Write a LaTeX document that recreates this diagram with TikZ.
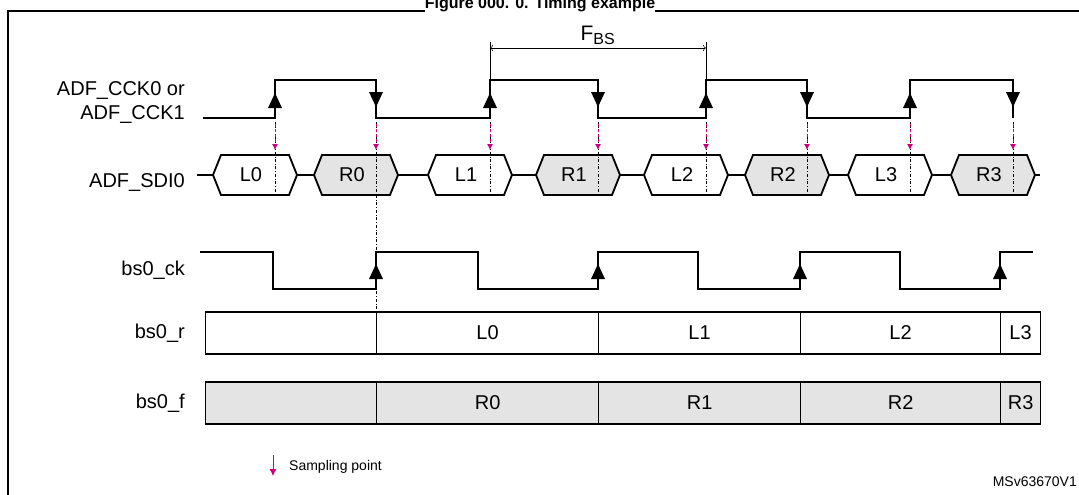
\documentclass[tikz,border=0pt]{standalone}
\usepackage{fontspec}
\setmainfont{Liberation Sans}
\usetikzlibrary{arrows.meta,positioning,shapes.geometric}
\definecolor{stmagenta}{RGB}{204,0,122}
\definecolor{slotgray}{RGB}{228,228,228}
\tikzset{>=To, x=1pt, y=-1pt}

\begin{document}
\begin{tikzpicture}

	% Definitions.
	\tikzstyle{every node}=[inner sep=1pt, font=\fontsize{20}{22}\selectfont]
	\tikzstyle{wave}=[line width=1.3pt]
	\tikzstyle{bubble}=[line width=1.8pt]
	\tikzstyle{signame}=[anchor=east, align=right, font=\fontsize{20}{24}\selectfont]
	\tikzstyle{slot}=[draw, line width=1.2pt, minimum height=42pt, anchor=west, inner sep=0pt]
	\tikzstyle{sample}=[-{Latex[length=6pt,width=6pt]}, densely dashed, color=stmagenta, line width=0.8pt]
	\tikzstyle{guide}=[dash dot, line width=0.6pt]
	\def\uptri#1#2{\fill (#1-7,#2+8) -- (#1+7,#2+8) -- (#1,#2-7) -- cycle;}
	\def\dntri#1#2{\fill (#1-7,#2-8) -- (#1+7,#2-8) -- (#1,#2+7) -- cycle;}

	\useasboundingbox (0,0) rectangle (1079,495);

	% ---------- Frame and Title ---------
	\draw[line width=1.2pt] (8,520) -- (8,11) -- (1090,11) -- (1090,520);
	\node[font=\bfseries\fontsize{16}{18}\selectfont, anchor=base, fill=white, inner sep=0pt] (title) at (540,9) {Figure 000. 0. Timing example};

	% ---------- Signal names ---------
	\node[signame] (cckname) at (186,103) {ADF\_CCK0 or\\ADF\_CCK1};
	\node[signame] (sdiname) at (186,183) {ADF\_SDI0};
	\node[signame] (ckname) at (186,270) {bs0\_ck};
	\node[signame] (rname) at (186,333) {bs0\_r};
	\node[signame] (fname) at (186,403) {bs0\_f};

	% ---------- ADF_CCK ---------
	\draw[wave] (203,118) -- (275,118) -- (275,80) -- (376,80) -- (376,118) -- (490,118) -- (490,80)
		-- (598,80) -- (598,118) -- (706,118) -- (706,80) -- (807,80) -- (807,118) -- (910,118)
		-- (910,80) -- (1013,80) -- (1013,118);
	\foreach \x in {275,490,706,910} {\uptri{\x}{100}}
	\foreach \x in {376,598,807,1013} {\dntri{\x}{100}}

	% F_BS
	\draw[line width=0.6pt] (490,42) -- (490,80);
	\draw[line width=0.6pt] (706,42) -- (706,80);
	\coordinate (fbsL) at (490,48);
	\coordinate (fbsR) at (706,48);
	\draw[<->, line width=0.6pt] (fbsL) -- node[above=2pt, font=\fontsize{21}{23}\selectfont] (fbs) {F\textsubscript{\fontsize{16}{18}\selectfont BS}} (fbsR);

	% ---------- ADF_SDI0 ---------
	\draw[bubble] (197,175) -- (1040,175);
	\foreach \e/\lab/\col [count=\i] in {275/L0/white,376/R0/slotgray,490/L1/white,598/R1/slotgray,
		706/L2/white,807/R2/slotgray,910/L3/white,1013/R3/slotgray} {
		\filldraw[bubble, fill=\col] (\e-62,175) -- (\e-54,155) -- (\e+14,155) -- (\e+22,175)
			-- (\e+14,195) -- (\e-54,195) -- cycle;
		\node[fill=\col] (bub\i) at (\e-24,175) {\lab};
		\draw[guide] (\e,122) -- (\e,195);
		\draw[sample] (\e,124) -- (\e,150);
	}
	\draw[guide] (376,195) -- (376,312);

	% ---------- bs0_ck ---------
	\draw[wave] (200,252) -- (273,252) -- (273,289) -- (376,289) -- (376,252) -- (478,252) -- (478,289)
		-- (598,289) -- (598,252) -- (698,252) -- (698,289) -- (800,289) -- (800,252) -- (900,252)
		-- (900,289) -- (1000,289) -- (1000,252) -- (1033,252);
	\foreach \x in {376,598,800,1000} {\uptri{\x}{271}}

	% ---------- bs0_r / bs0_f ---------
	\foreach \a/\b/\lr/\lf [count=\i] in {205/376//,376/598/L0/R0,598/800/L1/R1,800/1000/L2/R2,1000/1040/L3/R3} {
		\node[slot, minimum width={\b-\a}] (r\i) at (\a,333) {\lr};
		\node[slot, minimum width={\b-\a}, fill=slotgray] (f\i) at (\a,403) {\lf};
	}

	% ---------- Legend ---------
	\draw[-{Latex[length=7pt,width=7pt]}, color=stmagenta, line width=0.8pt] (273,455) -- (273,476);
	\node[anchor=west, font=\fontsize{14}{16}\selectfont] (legend) at (288,467) {Sampling point};
	\node[anchor=east, font=\fontsize{14}{16}\selectfont] (ref) at (1078,482) {MSv63670V1};

\end{tikzpicture}
\end{document}
